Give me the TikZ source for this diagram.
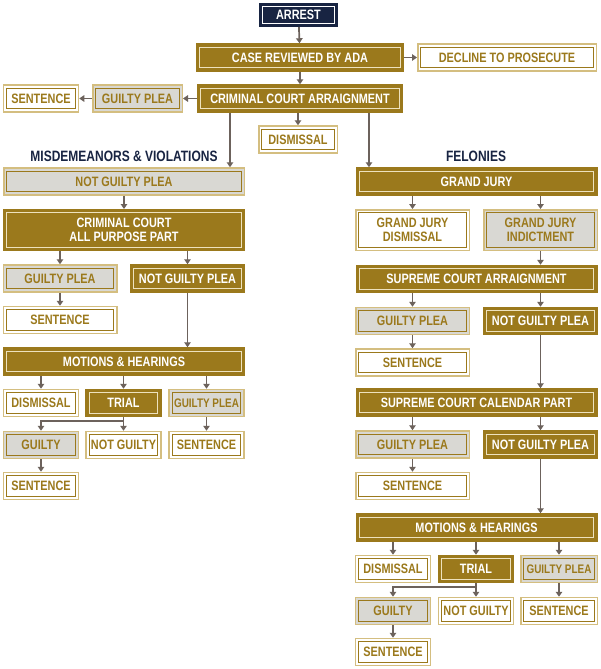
\documentclass[tikz,border=0pt]{standalone}
\usepackage{fontspec}
\newfontfamily\chartfont{Liberation Sans}[FakeStretch=0.8]
\usetikzlibrary{arrows.meta}
\definecolor{gold}{RGB}{155,121,28}
\definecolor{paleline}{RGB}{238,226,190}
\definecolor{lightgold}{RGB}{212,190,128}
\definecolor{plea}{RGB}{217,216,211}
\definecolor{navy}{RGB}{24,36,66}
\definecolor{arrowgray}{RGB}{108,98,92}

\begin{document}
\begin{tikzpicture}[x=1pt,y=-1pt,
  inner/.style={path picture={\draw[#1,line width=1pt]
    ([shift={(3.2pt,3.2pt)}]path picture bounding box.south west)rectangle
    ([shift={(-3.2pt,-3.2pt)}]path picture bounding box.north east);}},
  box/.style={inner sep=0pt,minimum height=27pt,align=center,line width=1.5pt,
    font=\chartfont\bfseries\fontsize{13.6}{14.6}\selectfont},
  goldbox/.style={box,fill=gold,draw=gold,inner=paleline,text=white},
  navybox/.style={box,fill=navy,draw=navy,inner=white,text=white},
  whitebox/.style={box,fill=white,draw=lightgold,inner=gold,text=gold},
  graybox/.style={box,fill=plea,draw=lightgold,inner=gold,text=gold},
  heading/.style={text=navy,font=\chartfont\bfseries\fontsize{15}{16}\selectfont},
  full/.style={minimum width=240.5pt},
  half/.style={minimum width=113.5pt},
  third/.style={minimum width=75pt},
  tight/.style={font=\chartfont\bfseries\fontsize{12.4}{13.4}\selectfont},
  tall/.style={minimum height=40.5pt},
  arr/.style={draw=arrowgray,line width=1.7pt,-{Triangle[width=6.5pt,length=5pt]}}]
  \useasboundingbox(0,0)rectangle(600,669);
  \fill[white](0,0)rectangle(600,669);
  % top of the chart
  \node[navybox,minimum width=77.5pt,minimum height=22.5pt](arrest)at(298.5,15){ARREST};
  \node[goldbox,minimum width=206.5pt](ada)at(300,57.5){CASE REVIEWED BY ADA};
  \node[whitebox,minimum width=178.5pt](decline)at(507,57.5){DECLINE TO PROSECUTE};
  \node[goldbox,minimum width=204.5pt](arraign)at(300,98.5){CRIMINAL COURT ARRAIGNMENT};
  \node[graybox,minimum width=89.5pt](plea)at(137.5,98.5){GUILTY PLEA};
  \node[whitebox,third](sent)at(41,98.5){SENTENCE};
  \node[whitebox,minimum width=78.5pt](dism)at(298,139.5){DISMISSAL};
  \node[heading](misd)at(124,156){MISDEMEANORS \& VIOLATIONS};
  \node[heading](fel)at(476,156){FELONIES};
  % misdemeanors
  \node[graybox,full](lngp)at(124,181.5){NOT GUILTY PLEA};
  \node[goldbox,full,tall](lccap)at(124,230){CRIMINAL COURT\\ALL PURPOSE PART};
  \node[graybox,half](lgp)at(60,278.5){GUILTY PLEA};
  \node[goldbox,half](lngpb)at(187.5,278.5){NOT GUILTY PLEA};
  \node[whitebox,half](lsent)at(60,320){SENTENCE};
  \node[goldbox,full](lmot)at(124,361.5){MOTIONS \& HEARINGS};
  \node[whitebox,third](ldism)at(41,403){DISMISSAL};
  \node[goldbox,third](ltrial)at(123.5,403){TRIAL};
  \node[graybox,third,tight](lgpb)at(206.5,403){GUILTY PLEA};
  \node[graybox,third](lguilty)at(41,445){GUILTY};
  \node[whitebox,third](lnotg)at(123.5,445){NOT GUILTY};
  \node[whitebox,third](lsentb)at(206.5,445){SENTENCE};
  \node[whitebox,third](lsentc)at(41,486){SENTENCE};
  % felonies
  \node[goldbox,full](rgj)at(476.5,181.5){GRAND JURY};
  \node[whitebox,half,tall](rgjd)at(412.5,230){GRAND JURY\\DISMISSAL};
  \node[graybox,half,tall](rgji)at(540.5,230){GRAND JURY\\INDICTMENT};
  \node[goldbox,full](rsca)at(476.5,279){SUPREME COURT ARRAIGNMENT};
  \node[graybox,half](rgp)at(412.5,321){GUILTY PLEA};
  \node[goldbox,half](rngp)at(540.5,321){NOT GUILTY PLEA};
  \node[whitebox,half](rsent)at(412.5,362.5){SENTENCE};
  \node[goldbox,full](rsccp)at(476.5,402.5){SUPREME COURT CALENDAR PART};
  \node[graybox,half](rgpb)at(412.5,444.5){GUILTY PLEA};
  \node[goldbox,half](rngpb)at(540.5,444.5){NOT GUILTY PLEA};
  \node[whitebox,half](rsentb)at(412.5,486){SENTENCE};
  \node[goldbox,full](rmot)at(476.5,527.5){MOTIONS \& HEARINGS};
  \node[whitebox,third](rdism)at(393,569){DISMISSAL};
  \node[goldbox,third](rtrial)at(476,569){TRIAL};
  \node[graybox,minimum width=76.5pt,tight](rgpc)at(559,569){GUILTY PLEA};
  \node[graybox,third](rguilty)at(393,611){GUILTY};
  \node[whitebox,third](rnotg)at(476,611){NOT GUILTY};
  \node[whitebox,minimum width=76.5pt](rsentc)at(559,611){SENTENCE};
  \node[whitebox,third](rsentd)at(393,652){SENTENCE};
  % connectors
  \draw[arr](arrest)--(ada);
  \draw[arr](ada)--(decline);
  \draw[arr](ada)--(arraign);
  \draw[arr](arraign)--(plea);
  \draw[arr](plea)--(sent);
  \draw[arr](arraign.south-|dism)--(dism);
  \draw[arr]([xshift=-70pt]arraign.south)--([xshift=-70pt]arraign.south|-lngp.north);
  \draw[arr]([xshift=69pt]arraign.south)--([xshift=69pt]arraign.south|-rgj.north);
  \draw[arr](lngp)--(lccap);
  \draw[arr](lccap.south-|lgp)--(lgp);
  \draw[arr](lccap.south-|lngpb)--(lngpb);
  \draw[arr](lgp)--(lsent);
  \draw[arr](lngpb)--(lngpb|-lmot.north);
  \draw[arr](lmot.south-|ldism)--(ldism);
  \draw[arr](lmot.south-|ltrial)--(ltrial);
  \draw[arr](lmot.south-|lgpb)--(lgpb);
  \draw[arr](ltrial)--(lnotg);
  \draw[arr]([yshift=-4pt]ltrial.south)-|(lguilty);
  \draw[arr](lgpb)--(lsentb);
  \draw[arr](lguilty)--(lsentc);
  \draw[arr](rgj.south-|rgjd)--(rgjd);
  \draw[arr](rgj.south-|rgji)--(rgji);
  \draw[arr](rgji)--(rgji|-rsca.north);
  \draw[arr](rsca.south-|rgp)--(rgp);
  \draw[arr](rsca.south-|rngp)--(rngp);
  \draw[arr](rgp)--(rsent);
  \draw[arr](rngp)--(rngp|-rsccp.north);
  \draw[arr](rsccp.south-|rgpb)--(rgpb);
  \draw[arr](rsccp.south-|rngpb)--(rngpb);
  \draw[arr](rgpb)--(rsentb);
  \draw[arr](rngpb)--(rngpb|-rmot.north);
  \draw[arr](rmot.south-|rdism)--(rdism);
  \draw[arr](rmot.south-|rtrial)--(rtrial);
  \draw[arr](rmot.south-|rgpc)--(rgpc);
  \draw[arr](rtrial)--(rnotg);
  \draw[arr]([yshift=-4pt]rtrial.south)-|(rguilty);
  \draw[arr](rgpc)--(rsentc);
  \draw[arr](rguilty)--(rsentd);
\end{tikzpicture}
\end{document}
